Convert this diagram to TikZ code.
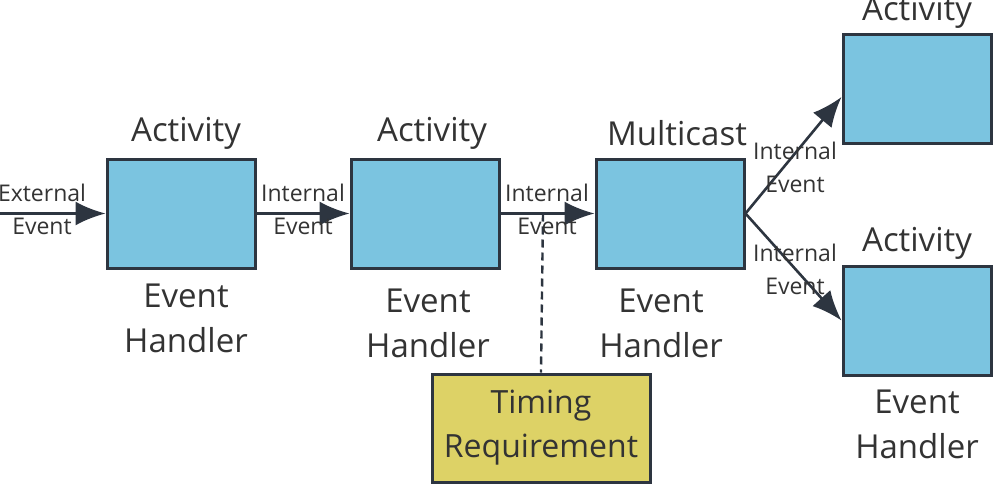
\documentclass[tikz,border=0pt]{standalone}
\usepackage{fontspec}
\setmainfont{Open Sans}
\usetikzlibrary{arrows.meta,positioning}
\definecolor{boxblue}{HTML}{7BC4E0}
\definecolor{boxyellow}{HTML}{DDD266}
\definecolor{edge}{HTML}{2D3540}
\definecolor{ink}{HTML}{333333}
\tikzset{
  handler/.style={draw=edge, line width=3pt, fill=boxblue, minimum width=148pt, minimum height=109pt, inner sep=0pt},
  timing/.style={draw=edge, line width=3pt, fill=boxyellow, minimum width=218pt, minimum height=108pt, inner sep=0pt, align=center, font=\fontsize{32}{44}\selectfont, text=ink},
  title/.style={font=\fontsize{33}{36}\selectfont, text=ink, inner sep=0pt},
  caption/.style={font=\fontsize{33}{45}\selectfont, text=ink, align=center, inner sep=0pt},
  evlabel/.style={font=\fontsize{23}{33}\selectfont, text=ink, align=center, inner sep=0pt},
  flow/.style={draw=edge, line width=2.6pt, -{Latex[length=30pt,width=24pt]}},
}
\begin{document}
\begin{tikzpicture}[x=1pt,y=-1pt]
        \useasboundingbox (0,0) rectangle (994,488);

        % Event handlers
        \node[handler] (h1) at (181,213.5) {};
        \node[handler] (h2) at (425,213.5) {};
        \node[handler] (h3) at (670,213.5) {};
        \node[handler] (h4) at (917,89) {};
        \node[handler] (h5) at (917,320.5) {};
        \node[timing] (tr) at (541,428) {Timing\\Requirement};

        % Titles above the boxes
        \node[title] at (186,133) {Activity};
        \node[title] at (432,133) {Activity};
        \node[title] at (677,133) {Multicast};
        \node[title] at (917,12) {Activity};
        \node[title] at (917,243) {Activity};

        % Captions below the boxes
        \node[caption] at (186,318) {Event\\Handler};
        \node[caption] at (428,323) {Event\\Handler};
        \node[caption] at (661,323) {Event\\Handler};
        \node[caption] at (917,424) {Event\\Handler};

        % Events
        \coordinate (src) at (0,213.5);
        \coordinate (tap) at (543,213.5);
        \draw[flow] (src) -- (h1.west);
        \draw[flow] (h1.east) -- (h2.west);
        \draw[flow] (h2.east) -- (h3.west);
        \draw[flow] (h3.east) -- ([yshift=-8pt]h4.west);
        \draw[flow] (h3.east) -- (h5.west);
        \draw[edge, line width=2.4pt, dash pattern=on 8pt off 5pt] (tap) -- (tr.north);

        \node[evlabel] at (42,209) {External\\Event};
        \node[evlabel] at (303,209) {Internal\\Event};
        \node[evlabel] at (547,209) {Internal\\Event};
        \node[evlabel] at (795,167) {Internal\\Event};
        \node[evlabel] at (795,269) {Internal\\Event};

    \end{tikzpicture}
\end{document}
